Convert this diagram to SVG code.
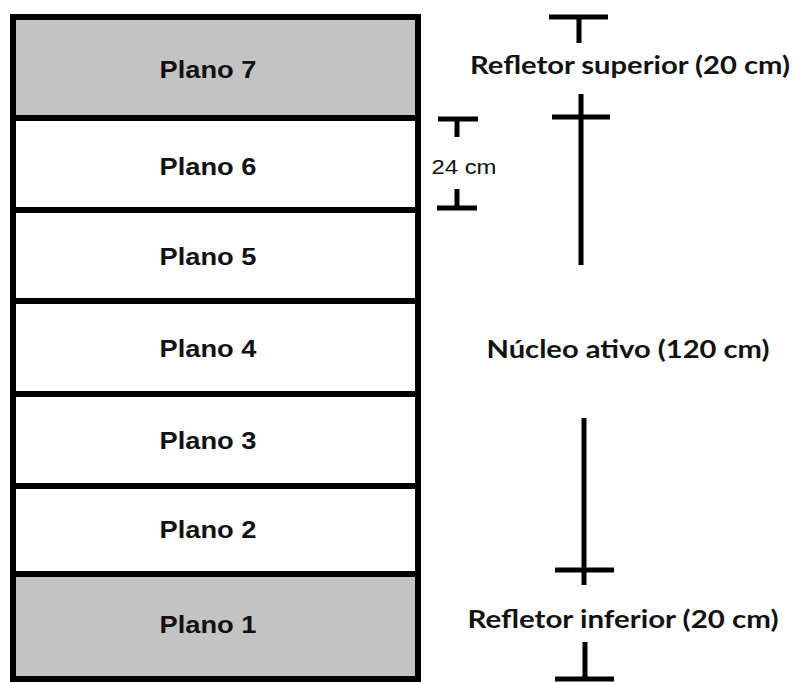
<svg xmlns="http://www.w3.org/2000/svg" width="797" height="682" viewBox="0 0 797 682">
<style>
.cell{stroke:#000;stroke-width:6}
.grey{fill:#c3c3c3}
.white{fill:#fff}
.pl{font-family:"Liberation Sans",Arial,sans-serif;font-weight:bold;font-size:23.5px;fill:#111;text-anchor:middle}
.lab{font-family:Lato,"Open Sans",sans-serif;font-weight:bold;font-size:25px;fill:#111;text-anchor:middle}
.sm{font-family:"Liberation Sans",Arial,sans-serif;font-size:20px;fill:#111;text-anchor:middle}
.bar{stroke:#000;stroke-width:5;fill:none}
</style>
<rect width="797" height="682" fill="#fff"/>
<g id="plano7"><rect class="cell grey" x="13" y="17" width="405" height="101"/><text class="pl" x="208" y="78" textLength="97" lengthAdjust="spacingAndGlyphs">Plano 7</text></g>
<g id="plano6"><rect class="cell white" x="13" y="118" width="405" height="92"/><text class="pl" x="208" y="175" textLength="97" lengthAdjust="spacingAndGlyphs">Plano 6</text></g>
<g id="plano5"><rect class="cell white" x="13" y="210" width="405" height="91"/><text class="pl" x="208" y="265" textLength="97" lengthAdjust="spacingAndGlyphs">Plano 5</text></g>
<g id="plano4"><rect class="cell white" x="13" y="301" width="405" height="93"/><text class="pl" x="208" y="357" textLength="97" lengthAdjust="spacingAndGlyphs">Plano 4</text></g>
<g id="plano3"><rect class="cell white" x="13" y="394" width="405" height="92"/><text class="pl" x="208" y="449" textLength="97" lengthAdjust="spacingAndGlyphs">Plano 3</text></g>
<g id="plano2"><rect class="cell white" x="13" y="486" width="405" height="88"/><text class="pl" x="208" y="538" textLength="97" lengthAdjust="spacingAndGlyphs">Plano 2</text></g>
<g id="plano1"><rect class="cell grey" x="13" y="574" width="405" height="105"/><text class="pl" x="208" y="633" textLength="97" lengthAdjust="spacingAndGlyphs">Plano 1</text></g>
<g id="connectors">
<path class="bar" d="M549 17H608M579 17V43"/>
<path class="bar" d="M552 117H610M581 94V265"/>
<path class="bar" d="M584 418V585M555 570H614"/>
<path class="bar" d="M585 642V679M555 679H614"/>
<path class="bar" d="M438 119H478M457 119V137"/>
<path class="bar" d="M457 189V208M437 208H477"/>
</g>
<g id="labels">
<text class="lab" x="630" y="74" textLength="320" lengthAdjust="spacingAndGlyphs">Refletor superior (20 cm)</text>
<text class="lab" x="628" y="358" textLength="283" lengthAdjust="spacingAndGlyphs">Núcleo ativo (120 cm)</text>
<text class="lab" x="623" y="628" textLength="311" lengthAdjust="spacingAndGlyphs">Refletor inferior (20 cm)</text>
<text class="sm" x="464" y="174" textLength="65" lengthAdjust="spacingAndGlyphs">24 cm</text>
</g>
</svg>
